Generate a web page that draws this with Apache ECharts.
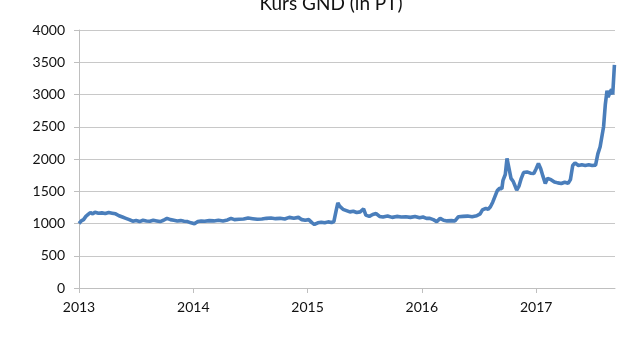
<!DOCTYPE html>
<html>
<head>
<meta charset="utf-8">
<script src="https://cdn.jsdelivr.net/npm/echarts@6/dist/echarts.min.js"></script>
<style>html,body{margin:0;padding:0;background:#fff}#c{width:640px;height:360px}</style>
</head>
<body>
<div id="c"></div>
<script>
var titleText = 'Kurs GND (in PT)';
var yearTicks = [2013, 2014, 2015, 2016, 2017];
var years = [
2013.00,2013.02,2013.04,2013.06,2013.08,2013.10,2013.12,2013.14,2013.17,2013.20,
2013.23,2013.26,2013.29,2013.32,2013.35,2013.38,2013.41,2013.44,2013.47,2013.50,
2013.53,2013.56,2013.59,2013.62,2013.65,2013.68,2013.71,2013.74,2013.77,2013.80,
2013.83,2013.86,2013.89,2013.92,2013.95,2013.98,2014.01,2014.04,2014.07,2014.10,
2014.14,2014.18,2014.22,2014.26,2014.30,2014.33,2014.36,2014.40,2014.44,2014.48,
2014.52,2014.56,2014.60,2014.64,2014.68,2014.72,2014.76,2014.80,2014.84,2014.88,
2014.92,2014.95,2014.98,2015.01,2015.04,2015.06,2015.09,2015.12,2015.15,2015.18,
2015.21,2015.23,2015.25,2015.265,2015.28,2015.31,2015.34,2015.37,2015.40,2015.43,
2015.46,2015.49,2015.51,2015.54,2015.57,2015.60,2015.63,2015.66,2015.70,2015.74,
2015.78,2015.82,2015.86,2015.90,2015.94,2015.98,2016.01,2016.04,2016.07,2016.10,
2016.13,2016.16,2016.19,2016.22,2016.26,2016.29,2016.32,2016.36,2016.40,2016.44,
2016.48,2016.51,2016.53,2016.56,2016.58,2016.60,2016.62,2016.64,2016.66,2016.68,
2016.70,2016.71,2016.73,2016.745,2016.76,2016.78,2016.80,2016.83,2016.85,2016.87,
2016.89,2016.92,2016.95,2016.98,2017.00,2017.02,2017.04,2017.06,2017.08,2017.10,
2017.13,2017.16,2017.19,2017.22,2017.25,2017.28,2017.30,2017.32,2017.34,2017.37,
2017.40,2017.43,2017.46,2017.49,2017.52,2017.54,2017.56,2017.575,2017.59,2017.605,
2017.62,2017.63,2017.645,2017.66,2017.67,2017.685
];
var prices = [
1000,1040,1060,1110,1140,1170,1150,1175,1160,1165,
1155,1170,1160,1150,1120,1100,1080,1060,1035,1045,
1030,1050,1040,1035,1050,1040,1030,1050,1080,1060,
1050,1040,1045,1035,1030,1010,995,1030,1040,1035,
1045,1040,1050,1040,1055,1080,1060,1065,1070,1085,
1075,1065,1070,1080,1085,1075,1080,1070,1095,1080,
1095,1060,1050,1060,1010,985,1010,1020,1010,1025,
1015,1030,1200,1320,1270,1220,1200,1180,1190,1170,
1180,1225,1130,1110,1140,1155,1110,1100,1115,1095,
1110,1100,1105,1095,1110,1090,1100,1080,1080,1060,
1030,1080,1050,1040,1045,1040,1105,1110,1115,1105,
1120,1150,1210,1235,1220,1260,1330,1420,1510,1545,
1540,1670,1760,2010,1980,1700,1650,1520,1580,1700,
1790,1800,1780,1775,1850,1930,1850,1730,1620,1700,
1680,1645,1630,1620,1640,1625,1680,1900,1940,1900,
1910,1900,1910,1900,1905,2080,2190,2160,2500,2840,
3060,2960,3030,3080,3000,3460
];
var seriesData = years.map(function (y, i) { return [y, prices[i]]; });

var chart = echarts.init(document.getElementById('c'), null, {renderer: 'canvas'});
var font = 'Lato, "Open Sans", sans-serif';
chart.setOption({
  animation: false,
  title: {
    text: titleText,
    left: 326,
    textAlign: 'center',
    top: -11,
    textStyle: {fontFamily: font, fontSize: 19, fontWeight: 'normal', color: '#111'}
  },
  grid: {left: 79, right: 25, top: 30, bottom: 72},
  xAxis: {
    type: 'value',
    min: 2013,
    max: 2017.69,
    interval: 1,
    axisLine: {show: true, lineStyle: {color: '#bfbfbf', width: 1}},
    axisTick: {show: true, length: 5, customValues: yearTicks, lineStyle: {color: '#bfbfbf'}},
    axisLabel: {
      customValues: yearTicks,
      margin: 12,
      fontFamily: font, fontSize: 14, color: '#111',
      formatter: function (v) { return String(Math.round(v)); }
    },
    splitLine: {show: false}
  },
  yAxis: {
    type: 'value',
    min: 0,
    max: 4000,
    interval: 500,
    axisLine: {show: true, lineStyle: {color: '#bfbfbf', width: 1}},
    axisTick: {show: true, length: 5, lineStyle: {color: '#bfbfbf'}},
    axisLabel: {
      margin: 14, fontFamily: font, fontSize: 14, color: '#111',
      formatter: function (v) { return String(v); }
    },
    splitLine: {show: true, lineStyle: {color: '#c8c8c8', width: 1}}
  },
  series: [{
    type: 'line',
    data: seriesData,
    showSymbol: false,
    symbol: 'none',
    lineStyle: {color: '#4a7ebb', width: 3.6},
    clip: false
  }]
});
</script>
</body>
</html>
